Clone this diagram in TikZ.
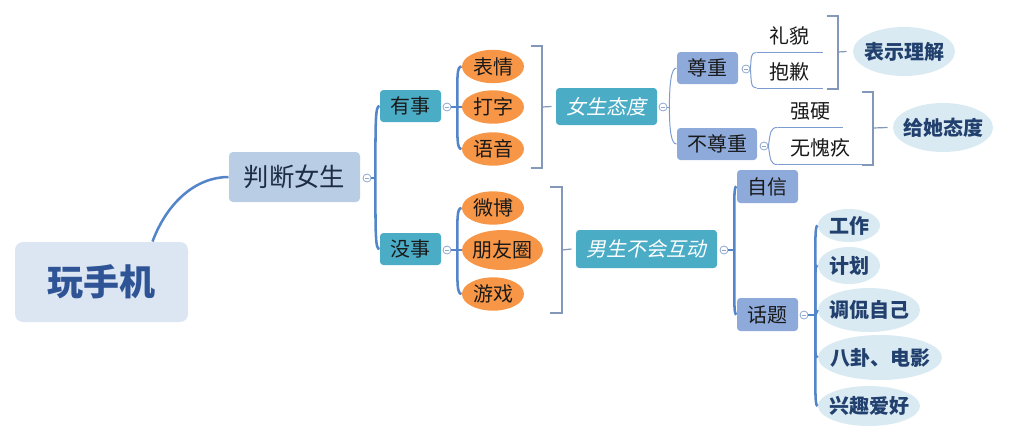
\documentclass[tikz,border=0pt]{standalone}
\usepackage{fontspec}
\setmainfont{Noto Sans CJK SC}
\newfontfamily\slantcjk[FakeSlant=0.2]{Noto Sans CJK SC}
\usetikzlibrary{shapes.geometric}

\definecolor{rootfill}{HTML}{DCE6F2}
\definecolor{roottext}{HTML}{2F5496}
\definecolor{mainfill}{HTML}{B9CDE5}
\definecolor{darktext}{HTML}{1C2C44}
\definecolor{tealfill}{HTML}{4BACC6}
\definecolor{orangefill}{HTML}{F79646}
\definecolor{bluefill}{HTML}{8EAADB}
\definecolor{palefill}{HTML}{DAEAF2}
\definecolor{boldtext}{HTML}{22406E}
\definecolor{spinecol}{HTML}{5585C9}
\definecolor{thincol}{HTML}{7C9CCF}
\definecolor{bracecol}{HTML}{8397B8}
\definecolor{foldcol}{HTML}{8FA6CF}

\tikzset{every picture/.style={line width=0.75pt}}
\tikzset{
  txt/.style={font=\fontsize{15}{18}\selectfont, text=black!90},
  rootbox/.style={fill=rootfill, rounded corners=6pt, inner sep=0pt, minimum width=129.75pt, minimum height=60pt, text=roottext, font=\fontsize{27}{30}\selectfont\bfseries},
  mainbox/.style={fill=mainfill, rounded corners=3pt, inner sep=0pt, minimum width=98.25pt, minimum height=37.5pt, text=darktext, font=\fontsize{19}{22}\selectfont},
  tealbox/.style={txt, fill=tealfill, rounded corners=2.5pt, inner sep=0pt, minimum height=24pt},
  slantbox/.style={tealbox, text=white, font=\fontsize{15}{18}\selectfont\slantcjk},
  bluebox/.style={txt, fill=bluefill, rounded corners=2.5pt, inner sep=0pt, minimum height=24pt},
  orangeleaf/.style={txt, ellipse, fill=orangefill, inner xsep=-12pt, inner ysep=0pt, minimum width=46.5pt, minimum height=25pt},
  paleleaf/.style={ellipse, fill=palefill, text=boldtext, font=\fontsize{15}{18}\selectfont\bfseries, inner xsep=-12pt, inner ysep=0pt},
  uline/.style={txt, inner sep=0pt, minimum height=24pt},
  fold/.style={circle, draw=foldcol, fill=white, line width=0.6pt, inner sep=0pt, minimum size=6pt,
    path picture={\draw[foldcol, line width=0.6pt] ([xshift=1.3pt]path picture bounding box.west) -- ([xshift=-1.3pt]path picture bounding box.east);}},
  spine/.style={draw=spinecol, line width=1.9pt},
  thinline/.style={draw=thincol, line width=0.75pt},
  brace/.style={draw=bracecol, line width=0.9pt}
}

\begin{document}
\begin{tikzpicture}[x=0.75pt,y=0.75pt,yscale=-1,xscale=1]
\useasboundingbox (0,0) rectangle (1012,444);

% Root and first level
\node[rootbox] (wsj) at (101.5,282) {玩手机};
\node[mainbox] (pdns) at (294.5,177) {判断女生};
\node[fold] (c0) at (367,178) {};

% Second level
\node[tealbox, minimum width=45.75pt] (ys) at (410.5,106) {有事};
\node[tealbox, minimum width=45.75pt] (ms) at (410.5,249) {没事};
\node[fold] (c1) at (447,107) {};
\node[fold] (c2) at (447,250) {};

% Orange leaves
\node[orangeleaf] (biaoqing) at (493,66.5) {表情};
\node[orangeleaf] (dazi) at (493,107) {打字};
\node[orangeleaf] (yuyin) at (493,149) {语音};
\node[orangeleaf] (weibo) at (493,208) {微博};
\node[orangeleaf, minimum width=60.75pt, minimum height=30pt] (pyq) at (502.5,250) {朋友圈};
\node[orangeleaf] (youxi) at (493,294) {游戏};

% Summaries
\node[slantbox, minimum width=75.75pt, minimum height=27.75pt] (nstd) at (606.5,106.5) {女生态度};
\node[slantbox, minimum width=105.75pt, minimum height=28.5pt] (nsbh) at (646.5,249) {男生不会互动};
\node[fold] (c3) at (663,107) {};
\node[fold] (c4) at (724,250) {};

% Attitude branch
\node[bluebox, minimum width=45.75pt] (zunzhong) at (707.5,68) {尊重};
\node[bluebox, minimum width=60pt] (buzunzhong) at (717,144) {不尊重};
\node[fold] (c5) at (746,69) {};
\node[fold] (c6) at (764,146) {};
\node[uline, minimum width=48.75pt] (limao) at (789.5,36) {礼貌};
\node[uline, minimum width=48.75pt] (baoqian) at (789.5,71.5) {抱歉};
\node[uline, minimum width=48pt] (qiangying) at (810,111) {强硬};
\node[uline, minimum width=63.75pt] (wukuijiu) at (820.5,148) {无愧疚};
\node[paleleaf, minimum width=76.5pt, minimum height=36.75pt] (bslj) at (904,51.5) {表示理解};
\node[paleleaf, minimum width=75pt, minimum height=36.75pt] (gtd) at (943,127.5) {给她态度};

% Interaction branch
\node[bluebox, minimum width=45.75pt, minimum height=24.75pt] (zixin) at (767.5,186.5) {自信};
\node[bluebox, minimum width=45.75pt, minimum height=24.75pt] (huati) at (767.5,314.5) {话题};
\node[fold] (c7) at (804,315) {};
\node[paleleaf, minimum width=46.5pt, minimum height=24.75pt] (gongzuo) at (849,225.5) {工作};
\node[paleleaf, minimum width=46.5pt, minimum height=27.75pt] (jihua) at (849,265.5) {计划};
\node[paleleaf, minimum width=76.5pt, minimum height=33pt] (tiaokan) at (869,310) {调侃自己};
\node[paleleaf, minimum width=93pt, minimum height=33.75pt] (bagua) at (880,357.5) {八卦、电影};
\node[paleleaf, minimum width=76.5pt, minimum height=30pt] (xingqu) at (869,406) {兴趣爱好};

% Connectors
\draw[spine] ([xshift=-27pt]wsj.north east) .. controls +(15,-40) and +(-32,0) .. (pdns.west);
\draw[spine] (c0.east) -- ++(4,0) coordinate (s0);
\draw[spine] (s0) .. controls +(0,-60) and +(-4,0) .. (ys.west);
\draw[spine] (s0) .. controls +(0,60) and +(-4,0) .. (ms.west);

\draw[spine] (c1.east) -- ++(6,0) coordinate (s1);
\draw[spine] (s1) .. controls +(0,-30) and +(-5,0) .. (biaoqing.west);
\draw[spine] (s1) -- (dazi.west);
\draw[spine] (s1) .. controls +(0,30) and +(-5,0) .. (yuyin.west);
\draw[spine] (c2.east) -- ++(6,0) coordinate (s2);
\draw[spine] (s2) .. controls +(0,-30) and +(-5,0) .. (weibo.west);
\draw[spine] (s2) -- (pyq.west);
\draw[spine] (s2) .. controls +(0,30) and +(-5,0) .. (youxi.west);

% Brackets
\draw[brace] (531,46) -- (542,46) -- (542,168) -- (531,168);
\draw[brace] (542,107) -- ([xshift=-3pt]nstd.west);
\draw[brace] (550,187) -- (562,187) -- (562,313) -- (550,313);
\draw[brace] (562,250) -- ([xshift=-3pt]nsbh.west);

\draw[thinline] (c3.east) -- ++(2,0) coordinate (s3);
\draw[thinline] (s3) .. controls +(0,-25) and +(-5,0) .. (zunzhong.west);
\draw[thinline] (s3) .. controls +(0,25) and +(-5,0) .. (buzunzhong.west);

\draw[thinline] (c5.east) .. controls +(1,-12) and +(-6,0) .. (limao.south west);
\draw[thinline] (c5.east) .. controls +(1,12) and +(-6,0) .. (baoqian.south west);
\draw[thinline] (c6.east) .. controls +(2,-14) and +(-7,0) .. (qiangying.south west);
\draw[thinline] (c6.east) .. controls +(2,14) and +(-7,0) .. (wukuijiu.south west);
\draw[thinline] (limao.south west) -- (limao.south east);
\draw[thinline] (baoqian.south west) -- (baoqian.south east);
\draw[thinline] (qiangying.south west) -- (qiangying.south east);
\draw[thinline] (wukuijiu.south west) -- (wukuijiu.south east);

\draw[brace] (827,16) -- (838,16) -- (838,89) -- (827,89);
\draw[brace] (838,52) -- ([xshift=-4.5pt]bslj.west);
\draw[brace] (862,92) -- (873,92) -- (873,165) -- (862,165);
\draw[brace] (873,128) -- ([xshift=-3.75pt]gtd.west);

\draw[spine] (c4.east) -- ++(6,0) coordinate (s4);
\draw[spine] (s4) .. controls +(0,-50) and +(-3,0) .. (zixin.west);
\draw[spine] (s4) .. controls +(0,50) and +(-3,0) .. (huati.west);

\draw[spine] (c7.east) -- ++(7,0) coordinate (s7);
\draw[spine] (s7) .. controls +(0,-70) and +(-3,0) .. (gongzuo.west);
\draw[spine] (s7) .. controls +(0,-40) and +(-3,0) .. (jihua.west);
\draw[spine] (s7) -- (tiaokan.west);
\draw[spine] (s7) .. controls +(0,35) and +(-3,0) .. (bagua.west);
\draw[spine] (s7) .. controls +(0,70) and +(-3,0) .. (xingqu.west);

\end{tikzpicture}
\end{document}
